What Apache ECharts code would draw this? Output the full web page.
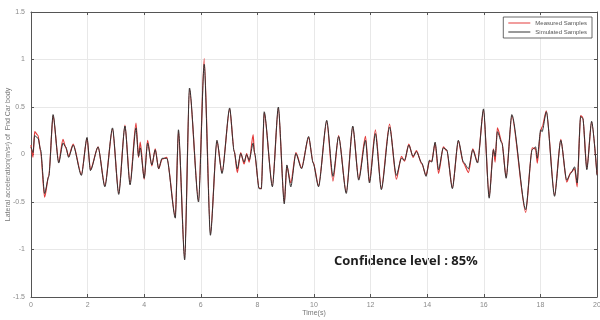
<!DOCTYPE html>
<html>
<head>
<meta charset="utf-8">
<script src="https://cdn.jsdelivr.net/npm/echarts@6/dist/echarts.min.js"></script>
<style>
  html, body { margin: 0; padding: 0; background: #fff; }
  #chart { width: 600px; height: 320px; }
</style>
</head>
<body>
<div id="chart"></div>
<script>
// time stamps (s) at each turning point
const timeS = [
  0.00, 0.07, 0.13, 0.25, 0.34, 0.48, 0.63, 0.78, 0.98, 1.13,
  1.23, 1.33, 1.49, 1.78, 1.98, 2.10, 2.37, 2.61, 2.88, 3.10,
  3.32, 3.50, 3.71, 3.80, 3.86, 4.00, 4.12, 4.27, 4.39, 4.51,
  4.63, 4.80, 5.10, 5.21, 5.43, 5.60, 5.92, 6.12, 6.34, 6.57,
  6.75, 7.02, 7.18, 7.29, 7.41, 7.53, 7.62, 7.71, 7.85, 7.90,
  8.06, 8.14, 8.24, 8.53, 8.74, 8.95, 9.04, 9.18, 9.36, 9.56,
  9.81, 9.97, 10.16, 10.45, 10.67, 10.87, 11.14, 11.37, 11.58, 11.82,
  11.96, 12.17, 12.38, 12.67, 12.91, 13.09, 13.20, 13.35, 13.50, 13.62,
  13.81, 13.96, 14.08, 14.16, 14.28, 14.40, 14.57, 14.69, 14.89, 15.10,
  15.28, 15.46, 15.61, 15.78, 15.99, 16.19, 16.34, 16.40, 16.48, 16.64,
  16.79, 16.99, 17.48, 17.71, 17.83, 17.89, 18.01, 18.06, 18.21, 18.50,
  18.72, 18.93, 19.07, 19.21, 19.30, 19.42, 19.50, 19.64, 19.81, 20.00
];

// simulated samples (black)
const simulated = [
  0.08, 0.02, 0.20, 0.17, 0.05, -0.41, -0.23, 0.42, -0.09, 0.12,
  0.08, -0.03, 0.10, -0.22, 0.18, -0.17, 0.08, -0.34, 0.28, -0.42,
  0.30, -0.32, 0.28, -0.02, 0.07, -0.25, 0.12, -0.11, 0.05, -0.15,
  -0.04, -0.04, -0.67, 0.26, -1.11, 0.70, -0.50, 0.95, -0.85, 0.15,
  -0.20, 0.49, 0.03, -0.15, 0.01, -0.08, 0.00, -0.06, 0.12, 0.02,
  -0.36, -0.36, 0.45, -0.34, 0.50, -0.52, -0.11, -0.34, 0.01, -0.15,
  0.19, -0.09, -0.34, 0.36, -0.23, 0.19, -0.41, 0.30, -0.27, 0.15,
  -0.30, 0.22, -0.37, 0.29, -0.22, -0.04, -0.06, 0.10, -0.02, 0.03,
  -0.09, -0.23, -0.06, -0.08, 0.13, -0.16, 0.07, 0.05, -0.36, 0.15,
  -0.08, -0.15, 0.05, -0.09, 0.48, -0.46, 0.05, -0.02, 0.24, 0.12,
  -0.25, 0.42, -0.58, 0.05, 0.08, -0.04, 0.26, 0.24, 0.45, -0.44,
  0.15, -0.27, -0.20, -0.13, -0.30, 0.40, 0.38, -0.16, 0.35, -0.22
];

// measured samples (red)
const measured = [
  0.10, -0.03, 0.24, 0.20, 0.03, -0.45, -0.22, 0.41, -0.08, 0.16,
  0.07, -0.02, 0.11, -0.21, 0.17, -0.16, 0.08, -0.33, 0.27, -0.41,
  0.31, -0.31, 0.33, -0.03, 0.13, -0.26, 0.15, -0.12, 0.06, -0.15,
  -0.05, -0.03, -0.66, 0.25, -1.10, 0.69, -0.49, 1.01, -0.84, 0.14,
  -0.19, 0.48, 0.04, -0.19, 0.02, -0.10, 0.01, -0.08, 0.21, 0.00,
  -0.35, -0.36, 0.44, -0.33, 0.49, -0.51, -0.12, -0.30, 0.02, -0.14,
  0.18, -0.08, -0.33, 0.35, -0.28, 0.20, -0.40, 0.29, -0.26, 0.19,
  -0.29, 0.26, -0.36, 0.32, -0.26, -0.02, -0.07, 0.11, -0.03, 0.04,
  -0.10, -0.22, -0.07, -0.07, 0.12, -0.20, 0.08, 0.04, -0.35, 0.14,
  -0.09, -0.19, 0.06, -0.08, 0.47, -0.45, 0.06, -0.08, 0.28, 0.13,
  -0.24, 0.41, -0.61, 0.07, 0.06, -0.09, 0.25, 0.29, 0.46, -0.43,
  0.16, -0.29, -0.19, -0.15, -0.34, 0.41, 0.39, -0.15, 0.34, -0.21
];

const chart = echarts.init(document.getElementById('chart'));

const labelStyle = { color: '#8a8a8a', fontSize: 7, fontFamily: 'Liberation Sans' };
const gridLine = { show: true, lineStyle: { color: '#e8e8e8', width: 1 } };
const boxLine = { show: true, onZero: false, lineStyle: { color: '#555', width: 1 } };
const inTick = { show: true, inside: true, length: 3, lineStyle: { color: '#555' } };

const option = {
  animation: false,
  backgroundColor: '#fff',
  grid: { left: 31, right: 3, top: 12, bottom: 23, containLabel: false, outerBoundsMode: 'none' },
  legend: {
    orient: 'vertical',
    right: 8,
    top: 17,
    backgroundColor: '#fff',
    borderColor: '#444',
    borderWidth: 0.8,
    padding: [3, 5, 3, 5],
    itemGap: 3,
    itemWidth: 22,
    itemHeight: 1,
    icon: 'rect',
    textStyle: { color: '#555', fontSize: 6, fontFamily: 'Liberation Sans' },
    data: ['Measured Samples', 'Simulated Samples']
  },
  xAxis: [
    {
      type: 'value',
      min: 0,
      max: 20,
      interval: 2,
      axisLine: boxLine,
      axisTick: inTick,
      axisLabel: { ...labelStyle, margin: 5 },
      splitLine: gridLine,
      name: 'Time(s)',
      nameLocation: 'middle',
      nameGap: 13,
      nameMoveOverlap: false,
      nameTextStyle: { color: '#777', fontSize: 7, fontFamily: 'Liberation Sans' }
    },
    {
      type: 'value',
      position: 'top',
      min: 0,
      max: 20,
      interval: 2,
      axisLine: boxLine,
      axisTick: inTick,
      axisLabel: { show: false },
      splitLine: { show: false }
    }
  ],
  yAxis: [
    {
      type: 'value',
      min: -1.5,
      max: 1.5,
      interval: 0.5,
      axisLine: boxLine,
      axisTick: inTick,
      axisLabel: { ...labelStyle, margin: 6 },
      splitLine: gridLine,
      name: 'Lateral acceleration(m/s\u00b2) of  Fnd Car body',
      nameLocation: 'middle',
      nameGap: 19,
      nameMoveOverlap: false,
      nameTextStyle: { color: '#777', fontSize: 7, fontFamily: 'Liberation Sans' }
    },
    {
      type: 'value',
      position: 'right',
      min: -1.5,
      max: 1.5,
      interval: 0.5,
      axisLine: boxLine,
      axisTick: inTick,
      axisLabel: { show: false },
      splitLine: { show: false }
    }
  ],
  series: [
    {
      name: 'Measured Samples',
      type: 'line',
      data: timeS.map((t, i) => [t, measured[i]]),
      symbol: 'none',
      smooth: 0.25,
      smoothMonotone: 'x',
      lineStyle: { color: '#e23a3a', width: 1.2 },
      itemStyle: { color: '#e23a3a' },
      z: 2
    },
    {
      name: 'Simulated Samples',
      type: 'line',
      data: timeS.map((t, i) => [t, simulated[i]]),
      symbol: 'none',
      smooth: 0.25,
      smoothMonotone: 'x',
      lineStyle: { color: '#333', width: 1 },
      itemStyle: { color: '#333' },
      z: 3
    }
  ],
  graphic: [
    {
      type: 'text',
      left: 334,
      top: 255,
      style: {
        text: 'Confidence level : 85%',
        fill: '#1e1e1e',
        font: 'bold 13px "Open Sans"'
      }
    }
  ]
};

chart.setOption(option);
</script>
</body>
</html>
